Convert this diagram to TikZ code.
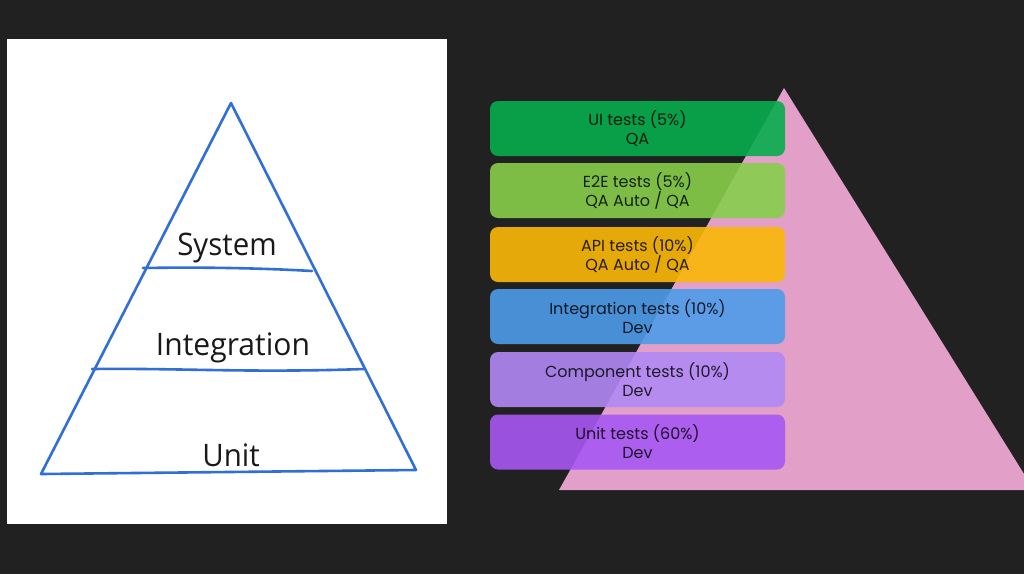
\documentclass[tikz,border=0pt]{standalone}
\usepackage{fontspec}
\setmainfont{Poppins}
\newfontfamily\handfont{Open Sans}
\definecolor{bgdark}{HTML}{212121}
\definecolor{pinktri}{HTML}{E2A0C8}
\definecolor{pyblue}{HTML}{2F6FD6}
\definecolor{cUI}{HTML}{07AD4E}
\definecolor{cEE}{HTML}{87CE4B}
\definecolor{cAPI}{HTML}{FBB807}
\definecolor{cINT}{HTML}{4E9CEA}
\definecolor{cCMP}{HTML}{B289F5}
\definecolor{cUNIT}{HTML}{A757F3}
\tikzset{
  tbox/.style={rounded corners=8pt, minimum width=295pt, minimum height=55pt,
    fill opacity=0.9, text opacity=0.82, text=black, align=center, inner sep=0pt,
    font=\fontsize{16}{19}\selectfont},
  pyline/.style={draw=pyblue, line width=2.6pt, line join=round, line cap=round},
  hand/.style={font=\handfont\fontsize{31}{31}\selectfont, text=black!90, inner sep=0pt}
}
\begin{document}
\begin{tikzpicture}[x=1pt,y=-1pt]
\useasboundingbox (0,0) rectangle (1024,574);
\fill[bgdark] (0,0) rectangle (1024,574);
% left white panel
\fill[white] (7,39) rectangle (447,524);
% left pyramid
\coordinate (apex) at (231,103);
\coordinate (bl) at (41,474);
\coordinate (br) at (416,470);
\coordinate (s1) at (143,268);
\coordinate (s2) at (312,271);
\coordinate (i1) at (92,369);
\coordinate (i2) at (364,369);
\draw[pyline] (apex) -- (br) -- (bl) -- cycle;
\draw[pyline] (s1) .. controls (200,267) and (260,268) .. (s2);
\draw[pyline] (i1) .. controls (180,368) and (250,373) .. (i2);
\node[hand, xscale=0.95] (lsys) at (227,248) {System};
\node[hand, xscale=0.97] (lint) at (233,348) {Integration};
\node[hand, xscale=0.95] (lunit) at (231,455) {Unit};
% pink triangle
\coordinate (tapex) at (784,88);
\coordinate (tbl) at (559,490);
\coordinate (tbr) at (1034,490);
\fill[pinktri] (tapex) -- (tbr) -- (tbl) -- cycle;
% boxes
\node[tbox, fill=cUI]   (bui)   at (637.5,128.5) {UI tests (5\%)\\QA};
\node[tbox, fill=cEE]   (bee)   at (637.5,190.5) {E2E tests (5\%)\\QA Auto / QA};
\node[tbox, fill=cAPI]  (bapi)  at (637.5,254.5) {API tests (10\%)\\QA Auto / QA};
\node[tbox, fill=cINT]  (bint)  at (637.5,316.5) {Integration tests (10\%)\\Dev};
\node[tbox, fill=cCMP]  (bcmp)  at (637.5,379.5) {Component tests (10\%)\\Dev};
\node[tbox, fill=cUNIT] (bunit) at (637.5,442) {Unit tests (60\%)\\Dev};
\end{tikzpicture}
\end{document}
